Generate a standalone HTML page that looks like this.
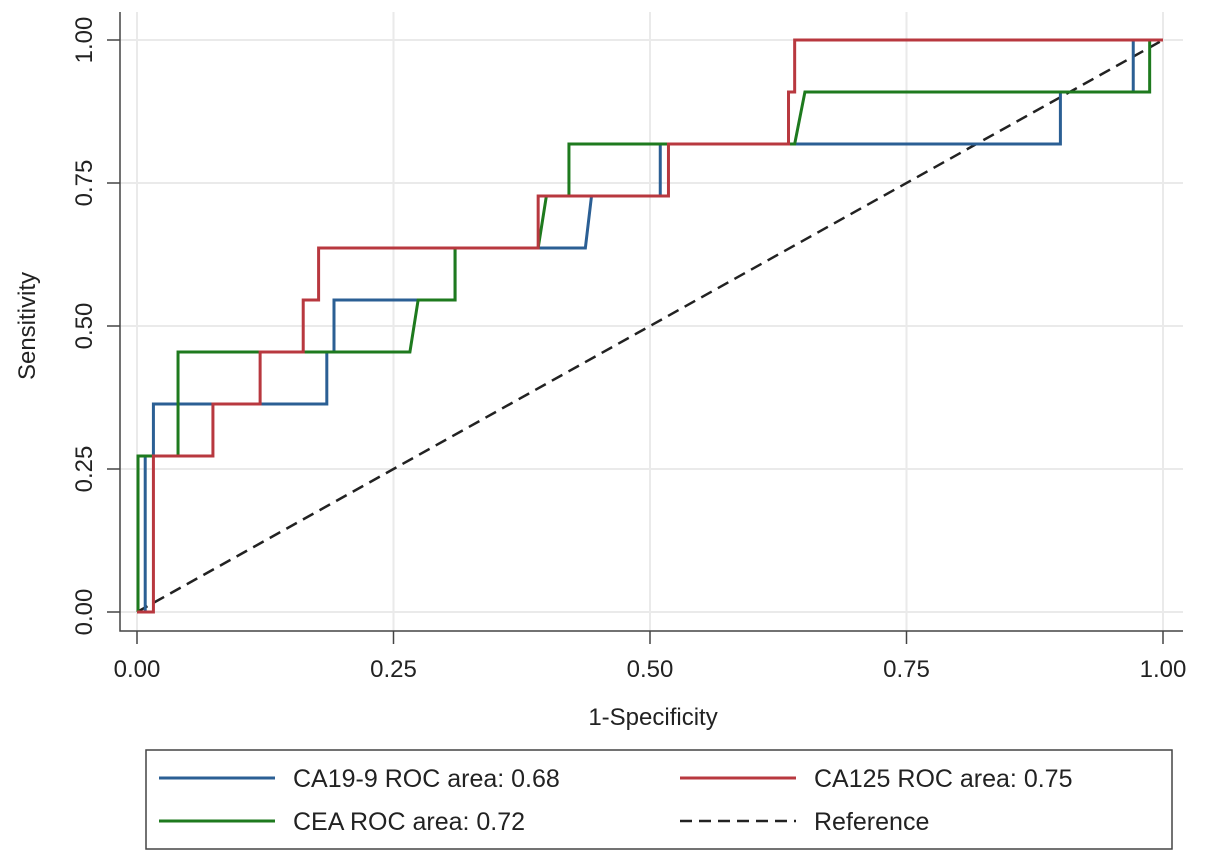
<!DOCTYPE html>
<html><head><meta charset="utf-8"><style>
body{margin:0;background:#fff;}
svg{display:block;font-family:"Liberation Sans",sans-serif;}
</style></head><body>
<svg id="c" width="1205" height="863" viewBox="0 0 1205 863">
<rect width="1205" height="863" fill="#fff"/>
<g id="grid"></g>
<g id="axes"></g>
<g id="series"></g>
<g>
<rect x="146" y="750" width="1026" height="99" fill="#fff" stroke="#444" stroke-width="1.5"/>
<line x1="159" y1="778" x2="275" y2="778" stroke="#2b5f94" stroke-width="3"/>
<text x="293" y="787" font-size="25" fill="#222">CA19-9 ROC area: 0.68</text>
<line x1="680" y1="778" x2="796" y2="778" stroke="#b8383f" stroke-width="3"/>
<text x="814" y="787" font-size="25" fill="#222">CA125 ROC area: 0.75</text>
<line x1="159" y1="821" x2="275" y2="821" stroke="#1e7a1e" stroke-width="3"/>
<text x="293" y="830" font-size="25" fill="#222">CEA ROC area: 0.72</text>
<line x1="680" y1="821" x2="796" y2="821" stroke="#222" stroke-width="2.5" stroke-dasharray="12,7"/>
<text x="814" y="830" font-size="25" fill="#222">Reference</text>
</g>
<text x="653" y="725" font-size="24" fill="#222" text-anchor="middle">1-Specificity</text>
<text transform="translate(35,326) rotate(-90)" font-size="24" fill="#222" text-anchor="middle">Sensitivity</text>
</svg>
<script>
const ticks=[0,0.25,0.5,0.75,1];
const tickLabels=["0.00","0.25","0.50","0.75","1.00"];
const ca199X=[0,0.008,0.008,0.016,0.016,0.185,0.185,0.192,0.192,0.31,0.31,0.437,0.443,0.51,0.51,0.90,0.90,0.971,0.971,1];
const ca199Y=[0,0,0.2727,0.2727,0.3636,0.3636,0.4545,0.4545,0.5455,0.5455,0.6364,0.6364,0.7273,0.7273,0.8182,0.8182,0.9091,0.9091,1,1];
const ca125X=[0,0.016,0.016,0.074,0.074,0.12,0.12,0.162,0.162,0.177,0.177,0.391,0.391,0.518,0.518,0.635,0.635,0.641,0.641,1];
const ca125Y=[0,0,0.2727,0.2727,0.3636,0.3636,0.4545,0.4545,0.5455,0.5455,0.6364,0.6364,0.7273,0.7273,0.8182,0.8182,0.9091,0.9091,1,1];
const ceaX=[0,0.001,0.001,0.040,0.040,0.266,0.274,0.31,0.31,0.391,0.399,0.421,0.421,0.641,0.651,0.987,0.987,1];
const ceaY=[0,0,0.2727,0.2727,0.4545,0.4545,0.5455,0.5455,0.6364,0.6364,0.7273,0.7273,0.8182,0.8182,0.9091,0.9091,1,1];
const refX=[0,1], refY=[0,1];
const NS="http://www.w3.org/2000/svg";
const sx=v=>137+1026*v, sy=v=>612-572*v;
function mk(t,a,p){const e=document.createElementNS(NS,t);for(const k in a)e.setAttribute(k,a[k]);p.appendChild(e);return e;}
const grid=document.getElementById('grid'),axes=document.getElementById('axes'),ser=document.getElementById('series');
ticks.forEach((t,i)=>{
 let g=mk('line',{x1:sx(t),x2:sx(t),y1:12,y2:631,stroke:'#eaeaea','stroke-width':2},grid);
 
 
 g=mk('line',{x1:120,x2:1183,y1:sy(t),y2:sy(t),stroke:'#eaeaea','stroke-width':2},grid);
 
 
 let tk=mk('line',{x1:sx(t),x2:sx(t),y1:631,y2:644,stroke:'#444','stroke-width':1.5},axes);
 
 
 tk=mk('line',{x1:107,x2:120,y1:sy(t),y2:sy(t),stroke:'#444','stroke-width':1.5},axes);
 
 
 let tl=mk('text',{x:sx(t),y:677,'font-size':24,fill:'#222','text-anchor':'middle'},axes);
 tl.textContent=tickLabels[i];
 
 
 tl=mk('text',{transform:`translate(92,${sy(t)}) rotate(-90)`,'font-size':24,fill:'#222','text-anchor':'middle'},axes);
 tl.textContent=tickLabels[i];
 
 
});
let ax=mk('polyline',{points:'120,12 120,631 1183,631',fill:'none',stroke:'#444','stroke-width':1.5},axes);


function line(xs,ys,color,name,dash){
 const pts=xs.map((x,i)=>sx(x)+','+sy(ys[i])).join(' ');
 const p=mk('polyline',{points:pts,fill:'none',stroke:color,'stroke-width':dash?2.5:3},ser);
 if(dash)p.setAttribute('stroke-dasharray','12,7');
 
 
}
line(refX,refY,'#222','reference-line',true);
line(ca199X,ca199Y,'#2b5f94','ca199-roc-curve');
line(ceaX,ceaY,'#1e7a1e','cea-roc-curve');
line(ca125X,ca125Y,'#b8383f','ca125-roc-curve');
</script>
</body></html>
